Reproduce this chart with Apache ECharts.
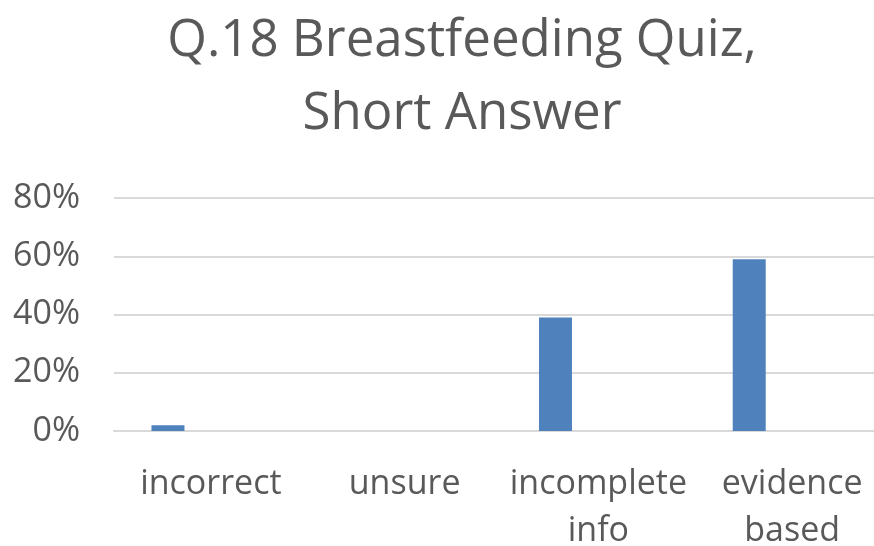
<!DOCTYPE html>
<html>
<head>
<meta charset="utf-8">
<script src="https://cdn.jsdelivr.net/npm/echarts@6/dist/echarts.min.js"></script>
<style>
  html, body { margin: 0; padding: 0; background: #fff; }
  #chart { width: 874px; height: 546px; }
</style>
</head>
<body>
<div id="chart"></div>
<script>
const categories = ['incorrect', 'unsure', 'incomplete\ninfo', 'evidence\nbased']
const answerShare = [2, 0, 39, 59]
// empty series keep the Excel-style cluster slots, so the bar sits left of the label
const emptySlotA = [null, null, null, null]
const emptySlotB = [null, null, null, null]
const yTicks = { min: 0, max: 80, interval: 20 }

const textColor = '#595959'
const font = 'Open Sans'

const chart = echarts.init(document.getElementById('chart'), null, { renderer: 'canvas' })

chart.setOption({
  animation: false,
  title: {
    text: 'Q.18 Breastfeeding Quiz,\nShort Answer',
    left: 457,
    top: 0,
    textAlign: 'center',
    textStyle: {
      fontFamily: font,
      fontSize: 51,
      fontWeight: 'normal',
      color: textColor,
      lineHeight: 73,
    },
  },
  // plot area runs past the right edge of the picture, as in the original crop
  grid: {
    left: 114, top: 198, width: 775, height: 233,
    containLabel: false,
    outerBoundsMode: 'none',
  },
  xAxis: {
    type: 'category',
    data: categories,
    axisLine: { show: true, lineStyle: { color: '#d9d9d9', width: 2 } },
    axisTick: { show: false },
    axisLabel: {
      interval: 0,
      margin: 30,
      fontFamily: font,
      fontSize: 34,
      lineHeight: 47,
      color: textColor,
    },
  },
  yAxis: {
    type: 'value',
    min: yTicks.min,
    max: yTicks.max,
    interval: yTicks.interval,
    axisLine: { show: false },
    axisTick: { show: false },
    axisLabel: {
      formatter: '{value}%',
      margin: 34,
      fontFamily: font,
      fontSize: 34,
      color: textColor,
    },
    splitLine: { lineStyle: { color: '#d9d9d9', width: 2 } },
  },
  series: [
    {
      type: 'bar',
      data: answerShare,
      barWidth: 33,
      barGap: '30%',
      itemStyle: { color: '#4f81bd' },
    },
    { type: 'bar', data: emptySlotA, barWidth: 33 },
    { type: 'bar', data: emptySlotB, barWidth: 33 },
  ],
})
</script>
</body>
</html>
